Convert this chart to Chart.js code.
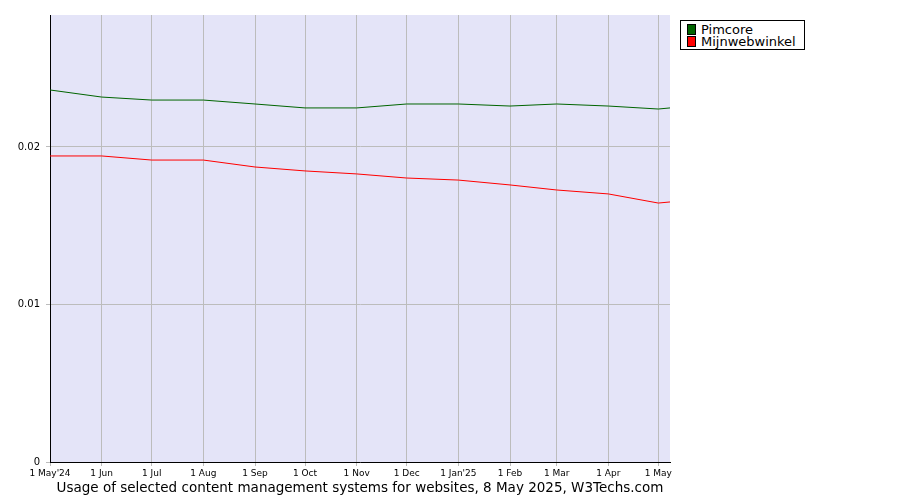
<!DOCTYPE html>
<html><head><meta charset="utf-8">
<script src="https://cdn.jsdelivr.net/npm/chart.js@4"></script>
<style>
body{margin:0;background:#fff;font-family:"DejaVu Sans",sans-serif}
#wrap{position:relative;width:900px;height:500px}
#title{position:absolute;left:0;width:720px;top:479px;text-align:center;font-size:13.5px;color:#000}
#legend{position:absolute;left:680px;top:20px;width:123px;border:1px solid #000;font-size:13px;line-height:12px;padding:3px 0 1px 0;background:#fff}
#legend div{padding-left:6px;white-space:nowrap}
#legend span{display:inline-block;width:7px;height:9px;border:1px solid #000;margin-right:5px;vertical-align:-1px}
</style></head><body>
<div id="wrap"><canvas id="c" width="900" height="500"></canvas>
<div id="legend"><div><span style="background:#006400"></span>Pimcore</div><div><span style="background:#ff0000"></span>Mijnwebwinkel</div></div>
<div id="title">Usage of selected content management systems for websites, 8 May 2025, W3Techs.com</div></div>
<script>
const dayOffsets=[0,31,61,92,123,153,184,214,245,276,304,335,365,372];
const tickDays=[0,31,61,92,123,153,184,214,245,276,304,335,365];
const tickLabels=["1 May'24","1 Jun","1 Jul","1 Aug","1 Sep","1 Oct","1 Nov","1 Dec","1 Jan'25","1 Feb","1 Mar","1 Apr","1 May"];
const pimcore=[0.02362,0.02317,0.02298,0.02298,0.02273,0.02248,0.02248,0.02273,0.02273,0.02260,0.02273,0.02260,0.02241,0.02248];
const mijn=[0.01943,0.01943,0.01917,0.01917,0.01873,0.01848,0.01829,0.01803,0.01790,0.01759,0.01727,0.01702,0.01644,0.01651];
const yTicks=[0,0.01,0.02];
const bg={id:'bg',beforeDraw(ch){const a=ch.chartArea,c=ch.ctx;c.save();c.fillStyle='#e4e4f8';c.fillRect(a.left,a.top,a.right-a.left,a.bottom-a.top);c.restore();}};
new Chart(document.getElementById('c'),{type:'line',
data:{datasets:[
{data:dayOffsets.map((d,i)=>({x:d,y:pimcore[i]})),borderColor:'#006400',borderWidth:1,pointRadius:0,tension:0},
{data:dayOffsets.map((d,i)=>({x:d,y:mijn[i]})),borderColor:'#ff0000',borderWidth:1,pointRadius:0,tension:0}]},
options:{responsive:false,animation:false,layout:{padding:{top:15,right:230,left:0,bottom:0}},
plugins:{legend:{display:false},tooltip:{enabled:false}},
scales:{
x:{type:'linear',min:0,max:372,afterFit(s){s.height=38},
afterBuildTicks(s){s.ticks=tickDays.map(v=>({value:v}))},
ticks:{autoSkip:false,maxRotation:0,color:'#000',font:{family:'DejaVu Sans',size:9},padding:2,callback:(v)=>tickLabels[tickDays.indexOf(v)]},
grid:{color:'#bcbcbc',drawTicks:true,tickLength:4},border:{color:'#000'}},
y:{min:0,max:0.02838,afterFit(s){s.width=50},
afterBuildTicks(s){s.ticks=yTicks.map(v=>({value:v}))},
ticks:{color:'#000',font:{family:'DejaVu Sans',size:10},padding:6,callback:v=>v===0?'0':String(v)},
grid:{color:'#bcbcbc',tickLength:4},border:{color:'#000'}}}},
plugins:[bg]});
</script></body></html>
